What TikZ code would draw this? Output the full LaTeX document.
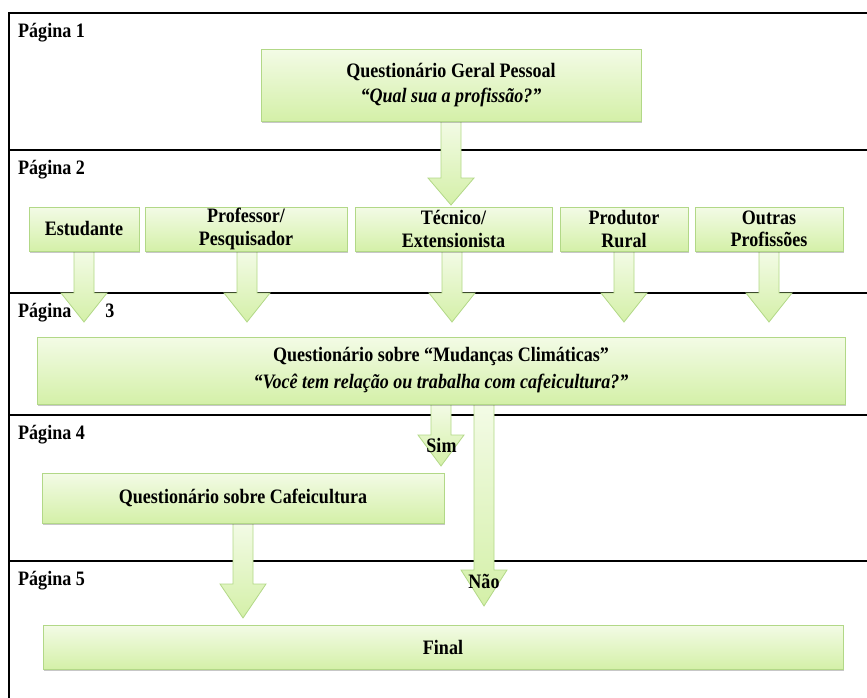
\documentclass[tikz,border=0pt]{standalone}
\usepackage{fontspec}
\setmainfont{Liberation Serif}[FakeStretch=0.88]
\usetikzlibrary{calc,shadows}
\definecolor{gtop}{HTML}{F3FBE6}
\definecolor{gbot}{HTML}{D4F0A8}
\definecolor{gborder}{HTML}{B2D887}
\tikzset{
  frame/.style={line width=2pt, black},
  box/.style={draw=gborder, line width=0.8pt, top color=gtop, bottom color=gbot,
    drop shadow={shadow xshift=1pt, shadow yshift=-2pt, fill=black, opacity=0.22},
    font=\bfseries\fontsize{20.5}{24}\selectfont, align=center, inner sep=0pt},
  barrow/.style={draw=gborder, line width=0.8pt, top color=gtop, bottom color=gbot},
  lbl/.style={font=\bfseries\fontsize{20.5}{24}\selectfont, inner sep=0pt, anchor=base west},
  lblc/.style={font=\bfseries\fontsize{20.5}{24}\selectfont, inner sep=0pt, anchor=base}
}
% #1 start (shaft top level), #2 tip, #3 head length (units of y, upward = negative)
\newcommand\blockarrow[3]{%
  \path[barrow]
    ($(#2 |- #1)+(-10,0)$) -- ($(#2)+(-10,-#3)$) -- ($(#2)+(-23,-#3)$) -- (#2)
    -- ($(#2)+(23,-#3)$) -- ($(#2)+(10,-#3)$) -- ($(#2 |- #1)+(10,0)$) -- cycle;}
\begin{document}
\begin{tikzpicture}[x=1pt,y=-1pt]
\useasboundingbox (0,0) rectangle (867,697);
% frame and page dividers
\draw[frame] (868,13) -- (9,13) -- (9,698);
\draw[frame] (9,150) -- (868,150);
\draw[frame] (9,293) -- (868,293);
\draw[frame] (9,415) -- (868,415);
\draw[frame] (9,561) -- (868,561);
% shaft start points (box bottoms)
\coordinate (q1s) at (451,120);
\coordinate (ests) at (84,251);
\coordinate (profs) at (247,251);
\coordinate (tecs) at (452,251);
\coordinate (prods) at (624,251);
\coordinate (outs) at (769,251);
\coordinate (q3s) at (441,404);
\coordinate (q4s) at (243,523);
% arrow tips
\coordinate (t1) at (451,205);
\coordinate (test) at (84,322);
\coordinate (tprof) at (247,322);
\coordinate (ttec) at (452,322);
\coordinate (tprod) at (624,322);
\coordinate (tout) at (769,322);
\coordinate (tsim) at (441,466);
\coordinate (tnao) at (484,606);
\coordinate (tq4) at (243,618);
% arrows
\blockarrow{q1s}{t1}{27}
\blockarrow{ests}{test}{29}
\blockarrow{profs}{tprof}{29}
\blockarrow{tecs}{ttec}{29}
\blockarrow{prods}{tprod}{29}
\blockarrow{outs}{tout}{29}
\blockarrow{q3s}{tsim}{31}
\blockarrow{q3s}{tnao}{36}
\blockarrow{q4s}{tq4}{34}
% boxes
\node[box, minimum width=380pt, minimum height=72pt, font=\bfseries\fontsize{20.5}{25}\selectfont] (q1) at (451,85)
  {Questionário Geral Pessoal\\\textit{“Qual sua a profissão?”}};
\node[box, minimum width=110pt, minimum height=44pt] (est) at (84,229) {Estudante};
\node[box, minimum width=202pt, minimum height=44pt, font=\bfseries\fontsize{20.5}{22.5}\selectfont] (prof) at (246,229) {Professor/\\Pesquisador};
\node[box, minimum width=197pt, minimum height=44pt, font=\bfseries\fontsize{20.5}{22.5}\selectfont] (tec) at (453.5,229) {Técnico/\\Extensionista};
\node[box, minimum width=128pt, minimum height=44pt, font=\bfseries\fontsize{20.5}{22.5}\selectfont] (prod) at (624,229) {Produtor\\Rural};
\node[box, minimum width=148pt, minimum height=44pt, font=\bfseries\fontsize{20.5}{22.5}\selectfont] (out) at (769,229) {Outras\\Profissões};
\node[box, minimum width=808pt, minimum height=67pt, font=\bfseries\fontsize{20.5}{27}\selectfont] (q3) at (441,370.5)
  {Questionário sobre “Mudanças Climáticas”\\\textit{“Você tem relação ou trabalha com cafeicultura?”}};
\node[box, minimum width=402pt, minimum height=50pt] (q4) at (243,498) {Questionário sobre Cafeicultura};
\node[box, minimum width=800pt, minimum height=44pt] (fin) at (443,647) {Final};
% labels
\node[lbl] (p1) at (18,37) {Página 1};
\node[lbl] (p2) at (18,174) {Página 2};
\node[lbl] (p3) at (18,317) {Página\hspace{34pt}3};
\node[lbl] (p4) at (18,439) {Página 4};
\node[lbl] (p5) at (18,585) {Página 5};
\node[lblc] (sim) at (441.5,452) {Sim};
\node[lblc] (nao) at (484,588) {Não};
\end{tikzpicture}
\end{document}
